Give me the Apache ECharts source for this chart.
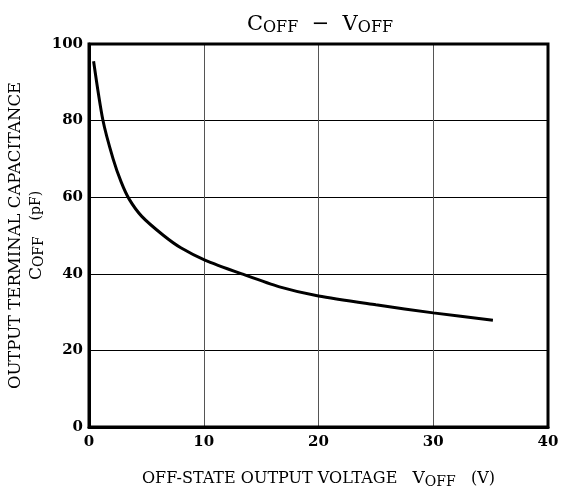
<!DOCTYPE html>
<html>
<head>
<meta charset="utf-8">
<script src="https://cdn.jsdelivr.net/npm/echarts@6/dist/echarts.min.js"></script>
<style>
  html, body { margin: 0; padding: 0; background: #fff; }
  #chart { width: 562px; height: 497px; }
</style>
</head>
<body>
<div id="chart"></div>
<script>
  // off-state voltage (V) and output terminal capacitance (pF)
  var voff = [0.4, 1.2, 2.1, 2.8, 3.5, 4.6, 6.5, 8.0, 10.1, 13.4, 16.6, 20, 25, 30, 35.2];
  var coff = [95.5, 80.3, 70.0, 64.0, 59.5, 55.0, 50.0, 46.8, 43.6, 39.9, 36.6, 34.2, 31.9, 29.8, 27.9];
  var xTicks = [0, 10, 20, 30, 40];
  var yTicks = [0, 20, 40, 60, 80, 100];

  var font = 'DejaVu Serif';
  var points = voff.map(function (v, i) { return [v, coff[i]]; });

  var chart = echarts.init(document.getElementById('chart'));
  chart.setOption({
    animation: false,
    backgroundColor: '#fff',
    title: {
      text: '{c|C}{s|OFF}{c|  −  V}{s|OFF}',
      left: 315,
      top: 8,
      textAlign: 'center',
      textStyle: {
        fontWeight: 'normal',
        rich: {
          c: { fontFamily: font, fontSize: 21, fontWeight: 'normal', color: '#000' },
          s: { fontFamily: font, fontSize: 16, fontWeight: 'normal', color: '#000', padding: [7, 0, 0, 0] }
        }
      }
    },
    grid: { left: 89, right: 14, top: 44, bottom: 70, outerBoundsMode: 'none' },
    xAxis: {
      type: 'value',
      min: xTicks[0],
      max: xTicks[xTicks.length - 1],
      interval: 10,
      name: 'OFF-STATE OUTPUT VOLTAGE   {c|V}{s|OFF}   (V)',
      nameLocation: 'middle',
      nameGap: 42,
      nameTextStyle: {
        fontFamily: font, fontSize: 16, color: '#000',
        rich: {
          c: { fontFamily: font, fontSize: 17, color: '#000' },
          s: { fontFamily: font, fontSize: 14, color: '#000', padding: [6, 0, 0, 0] }
        }
      },
      axisLine: { show: true, lineStyle: { color: '#000', width: 3 } },
      axisTick: { show: false },
      axisLabel: { fontFamily: font, fontSize: 15, fontWeight: 'bold', color: '#000', margin: 8 },
      splitLine: { show: true, lineStyle: { color: '#555', width: 1 } }
    },
    yAxis: {
      type: 'value',
      min: yTicks[0],
      max: yTicks[yTicks.length - 1],
      interval: 20,
      name: 'OUTPUT TERMINAL CAPACITANCE\n{c|C}{s|OFF}   {n|(pF)}',
      nameLocation: 'middle',
      nameGap: 42,
      nameMoveOverlap: false,
      nameTextStyle: {
        fontFamily: font, fontSize: 16.5, color: '#000', lineHeight: 21,
        rich: {
          c: { fontFamily: font, fontSize: 17, color: '#000' },
          s: { fontFamily: font, fontSize: 14, color: '#000', padding: [6, 0, 0, 0] },
          n: { fontFamily: font, fontSize: 14, color: '#000' }
        }
      },
      axisLine: { show: true, lineStyle: { color: '#000', width: 3 } },
      axisTick: { show: false },
      axisLabel: { fontFamily: font, fontSize: 15, fontWeight: 'bold', color: '#000', margin: 6 },
      splitLine: { show: true, lineStyle: { color: '#000', width: 1 } }
    },
    graphic: [{
      type: 'rect',
      shape: { x: 89, y: 44, width: 459, height: 383 },
      style: { fill: 'none', stroke: '#000', lineWidth: 3 },
      z: 10
    }],
    series: [{
      type: 'line',
      data: points,
      smooth: 0.25,
      showSymbol: false,
      lineStyle: { color: '#000', width: 3 },
      z: 5
    }]
  });
</script>
</body>
</html>
